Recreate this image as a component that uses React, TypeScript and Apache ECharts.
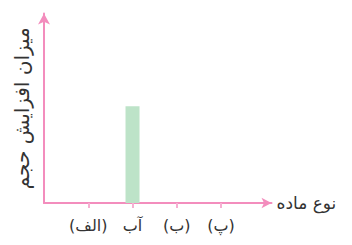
import React, { useEffect, useRef } from "react";
import * as echarts from "echarts";

const categories = ["(الف)", "آب", "(ب)", "(پ)"];
const positions = [1, 2, 3, 4];
const values: (number | null)[] = [null, 5.1, null, null];
const xAxisName = "نوع ماده";
const yAxisName = "میزان افزایش حجم";

export default function App() {
  const ref = useRef<HTMLDivElement>(null);
  useEffect(() => {
    if (!ref.current) return;
    const chart = echarts.init(ref.current, undefined, { renderer: "svg" });
    const axisColor = "#f38dbd";
    const font = "DejaVu Sans";
    chart.setOption({
      animation: false,
      grid: { left: 44, right: 80.5, top: 13.5, bottom: 42 },
      xAxis: {
        type: "value",
        min: 0,
        max: 5.14,
        interval: 1,
        name: xAxisName,
        nameLocation: "end",
        nameGap: 5,
        nameTextStyle: { color: "#333", fontSize: 17, fontFamily: font, verticalAlign: "middle" },
        splitLine: { show: false },
        axisLine: {
          lineStyle: { color: axisColor, width: 2 },
          symbol: ["none", "arrow"],
          symbolSize: [8, 10],
        },
        axisTick: {
          customValues: positions,
          length: 5,
          lineStyle: { color: "#f6b0d2", width: 2 },
        },
        axisLabel: {
          customValues: positions,
          margin: 14,
          color: "#333",
          fontSize: 16,
          fontFamily: font,
          formatter: (v: number) => categories[Math.round(v) - 1] ?? "",
        },
      },
      yAxis: {
        type: "value",
        min: 0,
        max: 10,
        name: yAxisName,
        nameLocation: "middle",
        nameRotate: 90,
        nameGap: 12,
        nameTextStyle: { color: "#333", fontSize: 20, fontFamily: font },
        splitLine: { show: false },
        axisLabel: { show: false },
        axisTick: { show: false },
        axisLine: {
          show: true,
          lineStyle: { color: axisColor, width: 2 },
          symbol: ["none", "arrow"],
          symbolSize: [9, 11],
        },
      },
      series: [
        {
          type: "bar",
          barWidth: 14,
          itemStyle: { color: "#bde3c8" },
          data: positions.map((p, i) => [p, values[i]]),
        },
      ],
    });
    return () => chart.dispose();
  }, []);
  return <div ref={ref} style={{ width: 352, height: 245, marginLeft: -8, marginTop: -8 }} />;
}
